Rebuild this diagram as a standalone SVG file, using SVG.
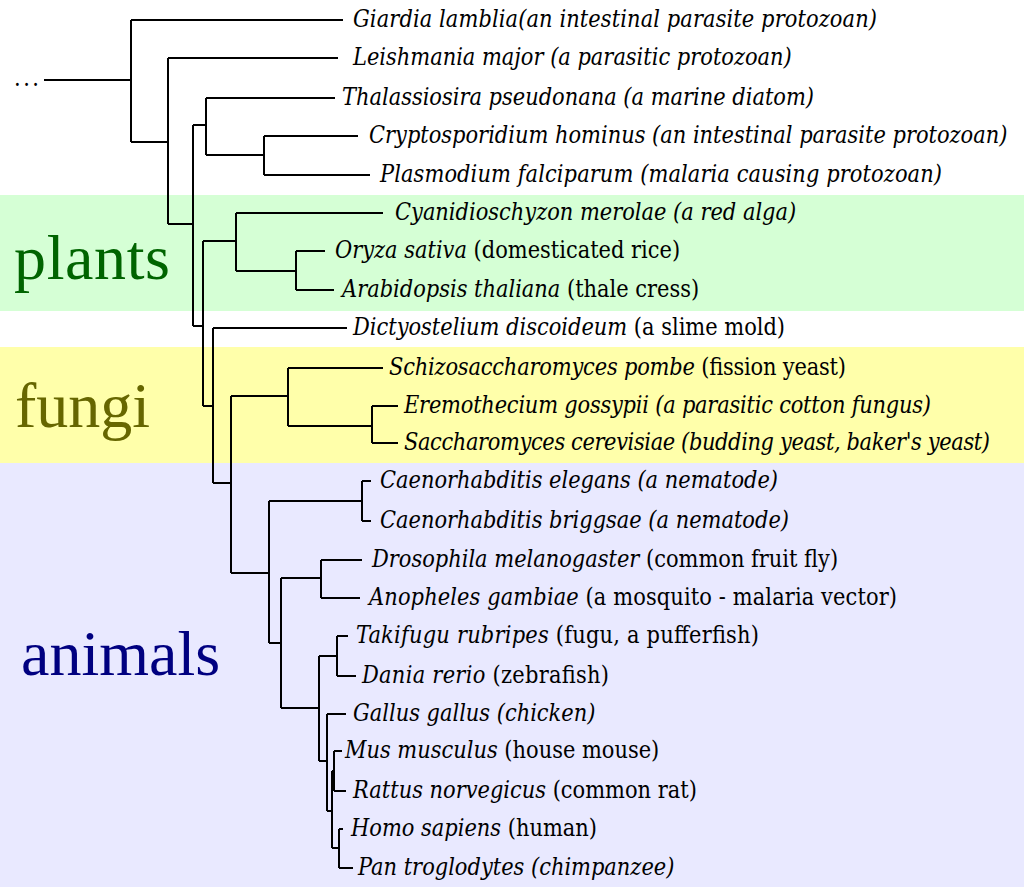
<svg xmlns="http://www.w3.org/2000/svg" width="1024" height="887" viewBox="0 0 1024 887">
<style>
.t{font-family:"DejaVu Serif Condensed","DejaVu Serif",serif;font-stretch:condensed;font-size:23.3px;fill:#000}
.i{font-style:italic}
.big{font-family:"Liberation Serif","DejaVu Serif",serif;font-size:64px}
.c path{fill:none;stroke:#000;stroke-width:2}
</style>
<g id="bands">
<rect x="0" y="195" width="1024" height="116" fill="#d5ffd5"/>
<rect x="0" y="347" width="1024" height="116" fill="#ffffaa"/>
<rect x="0" y="463" width="1024" height="424" fill="#e9e9ff"/>
</g>
<g id="group-labels">
<text class="big" x="14" y="279" fill="#006400" textLength="156">plants</text>
<text class="big" x="15" y="427" fill="#666600">fungi</text>
<text class="big" x="21" y="675" fill="#000080">animals</text>
</g>
<g id="connectors" class="c">
<path d="M44,80H131M131,20V142M131,20H343M131,142H168"/>
<path d="M168,58V224M168,58H338M168,224H193"/>
<path d="M193,125V326M193,125H206M206,98V155M206,98H335M206,155H264M264,136V175M264,136H358M264,175H370"/>
<path d="M193,326H203M203,241V406M203,241H236M236,213V271M236,213H383M236,271H296M296,251V290M296,251H325M296,290H334"/>
<path d="M203,406H213M213,328V483M213,328H347M213,483H231"/>
<path d="M231,396V573M231,396H288M288,368V426M288,368H383M288,426H372M372,406V443M372,406H398M372,443H398"/>
<path d="M231,573H269M269,501V643M269,501H362M362,481V521M362,481H371M362,521H371"/>
<path d="M269,643H281M281,578V708M281,578H321M321,560V598M321,560H362M321,598H360"/>
<path d="M281,708H319M319,656V761M319,656H337M337,636V676M337,636H348M337,676H356"/>
<path d="M319,761H327M327,714V811M327,714H346M327,811H332M332,771V848"/>
<path d="M332,771H334M334,751V791M334,751H342M334,791H346"/>
<path d="M332,848H339M339,829V868M339,829H343M339,868H353"/>
</g>
<g id="root"><text class="t" x="14" y="86" letter-spacing="2.5">...</text></g>
<g id="giardia"><text class="t i" x="353" y="27" textLength="524">Giardia lamblia(an intestinal parasite protozoan)</text></g>
<g id="leishmania"><text class="t i" x="353" y="65">Leishmania major (a parasitic protozoan)</text></g>
<g id="thalassiosira"><text class="t i" x="342" y="105">Thalassiosira pseudonana (a marine diatom)</text></g>
<g id="cryptosporidium"><text class="t i" x="369" y="143">Cryptosporidium hominus (an intestinal parasite protozoan)</text></g>
<g id="plasmodium"><text class="t i" x="380" y="182" textLength="562">Plasmodium falciparum (malaria causing protozoan)</text></g>
<g id="cyanidioschyzon"><text class="t i" x="395" y="220">Cyanidioschyzon merolae (a red alga)</text></g>
<g id="oryza"><text class="t" x="335" y="258"><tspan class="i">Oryza sativa</tspan> (domesticated rice)</text></g>
<g id="arabidopsis"><text class="t" x="342" y="297"><tspan class="i">Arabidopsis thaliana</tspan> (thale cress)</text></g>
<g id="dictyostelium"><text class="t" x="353" y="335"><tspan class="i">Dictyostelium discoideum</tspan> (a slime mold)</text></g>
<g id="schizosaccharomyces"><text class="t" x="389" y="375" textLength="457"><tspan class="i">Schizosaccharomyces pombe</tspan> (fission yeast)</text></g>
<g id="eremothecium"><text class="t i" x="404" y="413" textLength="527">Eremothecium gossypii (a parasitic cotton fungus)</text></g>
<g id="saccharomyces"><text class="t i" x="404" y="450" textLength="586">Saccharomyces cerevisiae (budding yeast, baker's yeast)</text></g>
<g id="c-elegans"><text class="t i" x="380" y="488">Caenorhabditis elegans (a nematode)</text></g>
<g id="c-briggsae"><text class="t i" x="380" y="528">Caenorhabditis briggsae (a nematode)</text></g>
<g id="drosophila"><text class="t" x="372" y="567"><tspan class="i">Drosophila melanogaster</tspan> (common fruit fly)</text></g>
<g id="anopheles"><text class="t" x="369" y="605" textLength="528"><tspan class="i">Anopheles gambiae</tspan> (a mosquito - malaria vector)</text></g>
<g id="takifugu"><text class="t" x="356" y="643" textLength="403"><tspan class="i">Takifugu rubripes</tspan> (fugu, a pufferfish)</text></g>
<g id="dania"><text class="t" x="362" y="683" textLength="247"><tspan class="i">Dania rerio</tspan> (zebrafish)</text></g>
<g id="gallus"><text class="t i" x="353" y="721">Gallus gallus (chicken)</text></g>
<g id="mus"><text class="t" x="345" y="758"><tspan class="i">Mus musculus</tspan> (house mouse)</text></g>
<g id="rattus"><text class="t" x="353" y="798"><tspan class="i">Rattus norvegicus</tspan> (common rat)</text></g>
<g id="homo"><text class="t" x="351" y="836"><tspan class="i">Homo sapiens</tspan> (human)</text></g>
<g id="pan"><text class="t i" x="358" y="875">Pan troglodytes (chimpanzee)</text></g>
</svg>
